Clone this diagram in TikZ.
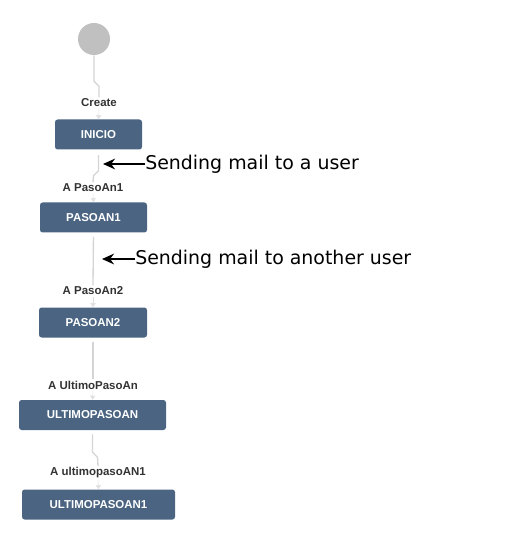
\documentclass[tikz,border=0pt]{standalone}
\usepackage{fontspec}
\setmainfont{Liberation Sans}
\newfontfamily\notefont{DejaVu Sans}
\usetikzlibrary{arrows.meta}
\definecolor{boxblue}{HTML}{4A6482}
\definecolor{edgegray}{HTML}{D4D4D4}
\definecolor{startgray}{HTML}{C0C0C0}
\definecolor{labelgray}{HTML}{333333}

\begin{document}
\begin{tikzpicture}[x=0.75pt,y=-0.75pt,
  state/.style={fill=boxblue,rounded corners=2pt,text=white,inner sep=0pt,
    font=\fontsize{8.6}{10}\selectfont\bfseries,minimum width=#1*0.75pt,minimum height=22.5pt},
  tlabel/.style={text=labelgray,inner sep=1pt,font=\fontsize{8.6}{10}\selectfont\bfseries},
  edge/.style={edgegray,line width=1pt},
  tip/.style={edgegray!70,line width=0.4pt,-{Triangle[length=3pt,width=4pt]}},
  note/.style={anchor=west,inner sep=0pt,font=\notefont\fontsize{14.2}{16}\selectfont},
  callout/.style={black,line width=1.7pt,-{Stealth[length=9pt,width=8pt]}}]
\path[use as bounding box] (0,0) rectangle (511,534);
\node[circle,fill=startgray,minimum size=24pt,inner sep=0pt] (start) at (94,39) {};
\node[tlabel] (create) at (99,103) {Create};
\node[state=87] (inicio) at (98.5,134.5) {INICIO};
\node[tlabel] (toPasoAn1) at (93,188) {A PasoAn1};
\node[state=107] (pasoan1) at (93.5,217.5) {PASOAN1};
\node[tlabel] (toPasoAn2) at (93,291) {A PasoAn2};
\node[state=108] (pasoan2) at (93,322.5) {PASOAN2};
\node[tlabel] (toUltimo) at (93,385) {A UltimoPasoAn};
\node[state=147] (ultimo) at (92.5,415) {ULTIMOPASOAN};
\node[tlabel] (toUltimo1) at (98,473) {A ultimopasoAN1};
\node[state=153] (ultimo1) at (98.5,504.5) {ULTIMOPASOAN1};
\draw[edge] (start.south) -- ++(0,26) -- ++(5,5) -- (create.north);
\draw[tip] (create.south) -- (inicio.north);
\draw[edge,shorten <=4pt] (inicio.south) -- ++(0,21) -- ++(-5,5) -- (toPasoAn1.north);
\draw[tip] (toPasoAn1.south) -- (pasoan1.north);
\draw[edge,shorten <=3pt] (pasoan1.south) -- (toPasoAn2.north);
\draw[tip] (toPasoAn2.south) -- (pasoan2.north);
\draw[edge,shorten <=3pt] (pasoan2.south) -- (toUltimo.north);
\draw[tip] (toUltimo.south) -- (ultimo.north);
\draw[edge,shorten <=3pt] (ultimo.south) -- ++(0,22) -- ++(5,5) -- (toUltimo1.north);
\draw[tip] (toUltimo1.south) -- (ultimo1.north);
\coordinate (mailTip) at (103,164);
\coordinate (otherTip) at (102,259);
\node[note] (mailNote) at (145,164) {Sending mail to a user};
\node[note] (otherNote) at (135,259) {Sending mail to another user};
\draw[callout] (mailNote.west) -- (mailTip);
\draw[callout] (otherNote.west) -- (otherTip);
\end{tikzpicture}
\end{document}
